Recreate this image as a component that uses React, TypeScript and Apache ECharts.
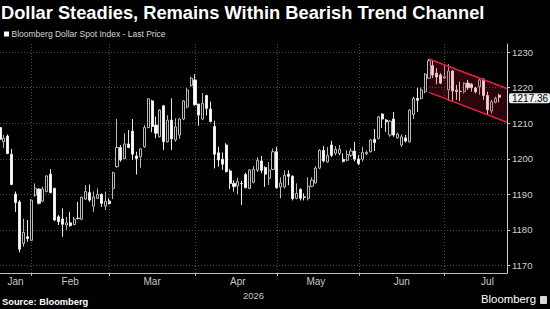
import React, { useEffect, useRef } from 'react';
import * as echarts from 'echarts';

const TITLE = 'Dollar Steadies, Remains Within Bearish Trend Channel';
const SERIES_NAME = 'Bloomberg Dollar Spot Index - Last Price';
const YEAR_LABEL = '2026';
const SOURCE = 'Source: Bloomberg';
const BRAND = 'Bloomberg';

const monthNames = ['Jan', 'Feb', 'Mar', 'Apr', 'May', 'Jun', 'Jul'];
const janDays = [21, 22, 23, 26, 27, 28, 29, 30];
const febDays = [2, 3, 4, 5, 6, 9, 10, 11, 12, 13, 16, 17, 18, 19, 20, 23, 24, 25, 26, 27];
const marDays = [2, 3, 4, 5, 6, 9, 10, 11, 12, 13, 16, 17, 18, 19, 20, 23, 24, 25, 26, 27, 30, 31];
const aprDays = [1, 2, 6, 7, 8, 9, 10, 13, 14, 15, 16, 17, 20, 21, 22, 23, 24, 27, 28, 29, 30];
const mayDays = [1, 4, 5, 6, 7, 8, 11, 12, 13, 14, 15, 18, 19, 20, 21, 22, 25, 26, 27, 28, 29];
const junDays = [1, 2, 3, 4, 5, 8, 9, 10, 11, 12, 15, 16, 17, 18, 19, 22, 23, 24, 25, 26, 29, 30];
const julDays = [1, 2, 3, 6, 7, 8, 9, 10, 13, 14, 15, 16, 17, 20, 21];
const padCategories = ['Jul 22', 'Jul 23'];

// [open, close, low, high]
const janOHLC = [
  [1208.8, 1205.5, 1204.8, 1209.5], [1204.8, 1205.8, 1203.0, 1206.7], [1206.4, 1201.5, 1201.3, 1206.9],
  [1201.3, 1192.8, 1192.6, 1202.8], [1190.1, 1187.7, 1185.1, 1190.8], [1187.9, 1174.6, 1173.7, 1188.4],
  [1176.2, 1179.3, 1175.3, 1183.2], [1178.1, 1177.6, 1176.7, 1182.8],
];
const febOHLC = [
  [1177.1, 1188.4, 1176.9, 1188.7], [1189.8, 1191.7, 1189.3, 1193.1], [1191.5, 1187.5, 1187.2, 1191.7],
  [1188.1, 1191.5, 1187.9, 1192.2], [1190.8, 1195.2, 1190.6, 1195.4], [1195.7, 1190.5, 1190.3, 1197.1],
  [1191.7, 1182.8, 1182.5, 1191.9], [1183.7, 1182.3, 1181.4, 1184.2], [1183.1, 1181.6, 1178.1, 1186.1],
  [1181.4, 1182.0, 1180.0, 1183.7], [1182.0, 1181.2, 1180.9, 1185.1], [1181.5, 1183.0, 1181.4, 1183.7],
  [1183.3, 1183.2, 1183.0, 1187.9], [1183.0, 1189.2, 1182.8, 1189.4], [1188.7, 1190.8, 1188.4, 1192.6],
  [1190.5, 1188.4, 1187.9, 1192.8], [1186.7, 1189.3, 1185.1, 1190.8], [1188.9, 1190.0, 1188.7, 1191.7],
  [1190.0, 1187.5, 1186.5, 1190.3], [1186.7, 1188.1, 1185.6, 1190.8],
];
const marOHLC = [
  [1188.1, 1187.4, 1187.2, 1188.9], [1191.7, 1196.1, 1188.7, 1196.4], [1197.8, 1203.2, 1197.5, 1211.2],
  [1203.2, 1199.7, 1199.2, 1203.9], [1200.1, 1204.2, 1199.9, 1207.2], [1204.2, 1203.2, 1203.0, 1208.1],
  [1207.8, 1201.3, 1199.7, 1211.2], [1200.8, 1200.1, 1195.6, 1202.0], [1200.6, 1202.8, 1197.5, 1203.0],
  [1203.4, 1208.8, 1203.1, 1209.5], [1208.8, 1216.9, 1208.6, 1217.0], [1216.3, 1209.1, 1207.5, 1216.6],
  [1209.5, 1207.2, 1205.8, 1211.9], [1206.2, 1213.7, 1206.0, 1213.9], [1214.9, 1204.8, 1202.5, 1215.1],
  [1204.8, 1210.9, 1204.6, 1212.3], [1210.9, 1205.6, 1202.5, 1217.0], [1205.3, 1209.0, 1204.8, 1211.4],
  [1206.7, 1211.2, 1205.6, 1211.4], [1211.2, 1216.3, 1210.9, 1216.5], [1214.6, 1219.3, 1214.2, 1219.9],
  [1220.6, 1222.7, 1220.3, 1223.1],
];
const aprOHLC = [
  [1222.2, 1215.2, 1215.0, 1223.8], [1215.4, 1212.3, 1209.3, 1215.5], [1211.2, 1215.6, 1210.9, 1218.5],
  [1217.8, 1214.2, 1212.2, 1218.0], [1214.0, 1210.5, 1210.3, 1216.1], [1209.1, 1201.3, 1197.3, 1210.7],
  [1201.7, 1199.7, 1197.8, 1203.4], [1199.9, 1198.5, 1196.9, 1201.8], [1203.9, 1196.4, 1196.2, 1204.4],
  [1196.6, 1193.1, 1191.5, 1197.1], [1193.1, 1192.2, 1190.8, 1194.0], [1192.4, 1193.6, 1190.0, 1194.7],
  [1193.1, 1193.0, 1187.0, 1193.8], [1195.6, 1191.9, 1191.7, 1196.1], [1191.7, 1196.9, 1191.5, 1197.1],
  [1193.4, 1197.1, 1193.1, 1198.0], [1196.8, 1199.6, 1196.3, 1200.5], [1199.4, 1196.8, 1196.0, 1200.8],
  [1197.6, 1195.7, 1192.1, 1197.9], [1194.5, 1196.8, 1192.6, 1199.1], [1197.0, 1202.0, 1196.8, 1202.9],
];
const mayOHLC = [
  [1202.0, 1191.9, 1191.6, 1203.4], [1192.1, 1193.2, 1188.9, 1194.8], [1192.1, 1195.4, 1191.7, 1196.8],
  [1195.7, 1195.1, 1192.6, 1196.8], [1195.1, 1188.8, 1188.3, 1195.4], [1188.9, 1190.3, 1188.6, 1193.1],
  [1191.4, 1188.9, 1188.3, 1191.7], [1189.3, 1189.2, 1188.3, 1190.3], [1188.9, 1192.3, 1188.3, 1194.8],
  [1192.3, 1194.0, 1192.0, 1194.8], [1193.2, 1197.4, 1193.1, 1197.9], [1197.4, 1202.4, 1197.1, 1202.7],
  [1202.4, 1199.4, 1199.0, 1203.6], [1199.1, 1201.0, 1198.9, 1203.3], [1203.9, 1201.0, 1200.5, 1205.1],
  [1201.6, 1202.7, 1201.0, 1203.6], [1201.5, 1202.7, 1201.0, 1203.9], [1199.9, 1199.3, 1199.0, 1201.5],
  [1199.6, 1201.2, 1199.3, 1202.4], [1201.0, 1202.2, 1200.5, 1203.0], [1202.2, 1199.9, 1199.3, 1204.8],
];
const junOHLC = [
  [1199.9, 1198.7, 1198.2, 1201.0], [1199.9, 1201.8, 1199.3, 1203.4], [1201.4, 1201.8, 1201.0, 1202.4],
  [1202.0, 1205.3, 1201.8, 1205.5], [1205.5, 1204.6, 1202.2, 1208.4], [1205.7, 1211.8, 1205.5, 1212.1],
  [1212.6, 1211.2, 1208.7, 1212.8], [1210.9, 1210.4, 1207.6, 1211.2], [1206.7, 1210.6, 1206.2, 1210.9],
  [1211.2, 1206.7, 1206.2, 1213.2], [1205.9, 1207.0, 1205.7, 1207.4], [1203.9, 1206.2, 1203.4, 1206.9],
  [1205.9, 1205.0, 1204.6, 1206.7], [1204.8, 1213.7, 1204.6, 1214.0], [1212.5, 1217.0, 1211.2, 1217.5],
  [1217.0, 1216.5, 1213.2, 1220.0], [1217.0, 1219.4, 1216.7, 1220.0], [1218.9, 1223.8, 1218.4, 1224.1],
  [1222.7, 1227.6, 1222.5, 1228.1], [1226.2, 1223.6, 1222.7, 1227.8], [1224.1, 1223.0, 1221.0, 1225.5],
  [1223.6, 1221.3, 1221.0, 1224.1],
];
const julOHLC = [
  [1222.7, 1223.1, 1222.5, 1226.6], [1219.4, 1224.7, 1216.3, 1226.6], [1224.7, 1219.1, 1216.1, 1225.0],
  [1219.3, 1218.9, 1216.6, 1220.8], [1219.0, 1218.9, 1216.3, 1221.7], [1218.9, 1221.3, 1218.4, 1221.5],
  [1221.3, 1220.0, 1219.4, 1222.2], [1221.0, 1220.0, 1218.9, 1221.3], [1219.9, 1218.9, 1218.4, 1220.3],
  [1220.3, 1222.2, 1218.0, 1222.7], [1222.2, 1217.8, 1216.6, 1222.7], [1217.8, 1213.8, 1212.5, 1218.9],
  [1213.5, 1216.1, 1212.8, 1216.6], [1215.9, 1217.0, 1215.6, 1217.5], [1217.9, 1217.36, 1215.9, 1218.3],
];
const lastPrice = 1217.36;

// trend channel (category index, value)
const channelIdx = [109.7, 130];
const channelTop = [1228.1, 1219.8];
const channelBottom = [1218.7, 1210.3];

const yMin = 1167.9;
const yMax = 1232.3;
const monthLabelIdx = [4, 18, 39, 61, 81, 103, 125];

const FONT = '"Liberation Sans", Arial, sans-serif';

export default function App() {
  const ref = useRef<HTMLDivElement>(null);
  useEffect(() => {
    if (!ref.current) return;
    const chart = echarts.init(ref.current, undefined, { renderer: 'svg' });

    const monthDays = [janDays, febDays, marDays, aprDays, mayDays, junDays, julDays];
    const categories: string[] = [];
    const monthStarts = new Set<number>();
    monthDays.forEach((days, m) => {
      days.forEach((d, k) => {
        if (k === 0 && m > 0) monthStarts.add(categories.length);
        categories.push(`${monthNames[m]} ${d}`);
      });
    });
    padCategories.forEach((c) => categories.push(c));
    const ohlc = [...janOHLC, ...febOHLC, ...marOHLC, ...aprOHLC, ...mayOHLC, ...junOHLC, ...julOHLC];

    const gridLine = { color: '#4d4d4d', type: [1, 2] as number[], width: 1 };

    const option: any = {
      animation: false,
      backgroundColor: '#000',
      grid: { left: 0, right: 43, top: 44, bottom: 36, containLabel: false },
      xAxis: {
        type: 'category',
        data: categories,
        boundaryGap: false,
        axisLine: { show: true, lineStyle: { color: '#bdbdbd', width: 1 } },
        axisTick: { show: true, length: 3, interval: (i: number) => monthStarts.has(i), lineStyle: { color: '#bdbdbd' } },
        axisLabel: {
          interval: (i: number) => monthLabelIdx.includes(i),
          formatter: (v: string) => v.split(' ')[0],
          color: '#c8c8c8', fontSize: 10, fontFamily: FONT, margin: 3,
        },
        splitLine: { show: true, interval: (i: number) => monthStarts.has(i), lineStyle: gridLine },
        name: YEAR_LABEL,
        nameLocation: 'middle',
        nameGap: 13,
        nameTextStyle: { color: '#c8c8c8', fontSize: 9.5, fontFamily: FONT },
      },
      yAxis: {
        type: 'value',
        position: 'right',
        min: yMin,
        max: yMax,
        splitNumber: 6,
        axisLine: { show: true, lineStyle: { color: '#d0d0d0', width: 1 } },
        axisTick: { show: true, length: 3, lineStyle: { color: '#d0d0d0' } },
        axisLabel: {
          color: '#d0d0d0', fontSize: 9.5, fontFamily: FONT, margin: 5, lineHeight: 9,
          showMinLabel: false, showMaxLabel: false,
          formatter: (v: number) => String(Math.round(v)),
        },
        splitLine: { show: true, lineStyle: gridLine, showMinLine: false, showMaxLine: false },
      },
      series: [
        {
          name: SERIES_NAME,
          type: 'candlestick',
          data: ohlc,
          barWidth: 2.6,
          z: 2,
          itemStyle: {
            color: '#000000',
            color0: '#ffffff',
            borderColor: '#b8b8b8',
            borderColor0: '#e8e8e8',
            borderWidth: 1,
          },
          markLine: {
            silent: true,
            symbol: ['none', 'none'],
            lineStyle: { color: 'rgba(0,0,0,0)', width: 0, type: 'solid' },
            label: {
              show: true,
              position: 'end',
              distance: 2,
              offset: [0, 1],
              formatter: () => lastPrice.toFixed(2),
              backgroundColor: '#eeeeee',
              color: '#000000',
              fontSize: 10,
              lineHeight: 10,
              fontFamily: FONT,
              padding: [0, 2, 0, 3],
              borderRadius: 2,
            },
            data: [{ yAxis: lastPrice }],
          },
        },
        {
          type: 'custom',
          z: 5,
          silent: true,
          data: [[channelIdx[0], channelTop[0]]],
          renderItem: (_p: any, api: any) => {
            const a = api.coord([channelIdx[0], channelTop[0]]);
            const b = api.coord([channelIdx[1], channelTop[1]]);
            const c = api.coord([channelIdx[1], channelBottom[1]]);
            const d = api.coord([channelIdx[0], channelBottom[0]]);
            return {
              type: 'group',
              children: [
                { type: 'polygon', shape: { points: [a, b, c, d] }, style: { fill: 'rgba(215,25,50,0.2)' } },
                { type: 'line', shape: { x1: a[0], y1: a[1], x2: b[0], y2: b[1] }, style: { stroke: '#e3213c', lineWidth: 1.5 } },
                { type: 'line', shape: { x1: d[0], y1: d[1], x2: c[0], y2: c[1] }, style: { stroke: '#e3213c', lineWidth: 1.5 } },
              ],
            };
          },
        },
      ],
      graphic: [
        { type: 'text', left: 1, top: 3, style: { text: TITLE, fill: '#ffffff', font: `bold 18.3px ${FONT}` } },
        { type: 'rect', left: 4, top: 31.5, shape: { width: 5, height: 5 }, style: { fill: '#ffffff' } },
        { type: 'text', left: 11.5, top: 29.5, style: { text: SERIES_NAME, fill: '#d8d8d8', font: `8.5px ${FONT}` } },
        { type: 'text', left: 2, top: 297.5, style: { text: SOURCE, fill: '#ffffff', font: `bold 9.3px ${FONT}` } },
        { type: 'text', right: 14, top: 293.5, style: { text: BRAND, fill: '#ffffff', font: `11.4px ${FONT}` } },
        { type: 'rect', left: 540, top: 296, shape: { width: 7, height: 8, r: 1 }, style: { fill: '#d8d8d8' } },
      ],
    };
    chart.setOption(option);
    return () => chart.dispose();
  }, []);
  return <div ref={ref} style={{ position: 'fixed', left: 0, top: 0, width: 550, height: 309, background: '#000' }} />;
}
